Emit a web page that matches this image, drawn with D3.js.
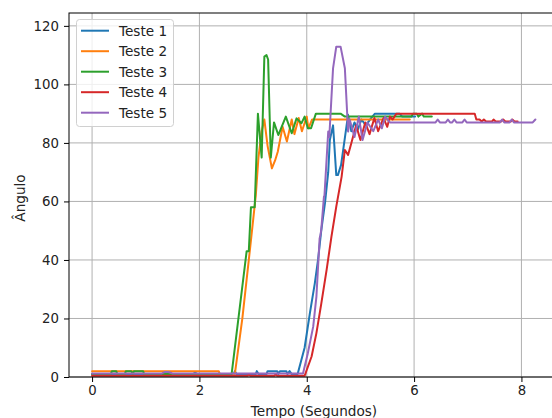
<!DOCTYPE html>
<html>
<head>
<meta charset="utf-8">
<script src="https://cdn.jsdelivr.net/npm/d3@7"></script>
<style>
  body { margin: 0; background: #fff; overflow: hidden; }
  svg { display: block; font-family: "DejaVu Sans", sans-serif; }
</style>
</head>
<body>
<svg id="chart"></svg>
<script>
// [tempo (s), ângulo]
const teste1 = [[0,1],[1.88,1],[1.92,1.5],[1.96,1],[2.64,1],[2.66,2],[2.69,1],[3.05,1],[3.07,2],[3.10,1],[3.25,1],[3.27,2],[3.45,2],[3.47,1],[3.50,2],[3.62,2],[3.64,1],[3.68,2],[3.72,1],[3.83,1],[3.96,10],[4.06,22],[4.15,32],[4.21,40],[4.27,50],[4.34,59.5],[4.40,70],[4.43,81],[4.49,86],[4.55,69],[4.58,69],[4.64,72.5],[4.77,89.6],[4.83,84],[4.89,87],[4.95,84.5],[5.02,88],[5.10,86],[5.20,88.5],[5.27,90],[5.73,90],[5.78,89],[6.02,89]];
const teste2 = [[0,2],[2.36,2],[2.38,1],[2.66,1],[2.80,20],[2.95,45],[3.05,62],[3.10,75],[3.16,84],[3.21,88],[3.27,79],[3.35,71.3],[3.41,74],[3.46,77],[3.55,85.5],[3.63,80.5],[3.72,88],[3.77,83],[3.85,88.5],[3.91,84],[4.00,89],[4.03,85],[4.10,88],[5.92,88]];
const teste3 = [[0,1],[0.35,1],[0.37,2],[0.45,2],[0.47,1],[0.61,1],[0.63,2],[0.73,2],[0.76,1],[0.78,2],[0.95,2],[0.97,1],[2.60,1],[2.88,43],[2.92,43],[2.96,58],[3.03,58],[3.09,90],[3.16,75],[3.21,109.5],[3.25,110],[3.28,108.5],[3.33,75],[3.39,87],[3.47,82.7],[3.61,89],[3.72,83.3],[3.81,88.4],[3.90,86.7],[3.96,89],[4.02,85],[4.08,85],[4.17,90],[4.63,90],[4.71,89],[5.95,89],[5.98,90],[6.05,90],[6.08,89],[6.15,90],[6.18,89],[6.33,89]];
const teste4 = [[0,0.4],[2.90,0.4],[2.92,1],[2.95,0.4],[3.40,0.4],[3.42,1],[3.45,0.4],[3.96,0.4],[4.09,7],[4.18,15],[4.27,25],[4.37,36.6],[4.46,48],[4.55,58.2],[4.65,68.5],[4.71,77.6],[4.77,75.9],[4.83,79.9],[4.92,86],[5.00,81],[5.09,87],[5.17,83],[5.26,88.5],[5.33,84],[5.43,88.5],[5.50,85.5],[5.55,89],[5.60,88],[5.67,90],[7.13,90],[7.16,88],[7.22,88],[7.26,87.3],[7.30,88],[7.34,87.3],[7.45,87.3],[7.48,88],[7.52,87.3],[7.62,87.3],[7.66,88],[7.70,87.3],[7.80,87.3],[7.83,88],[7.87,87.3],[7.93,87.3]];
const teste5 = [[0,1.2],[1.30,1.2],[1.35,1.7],[1.42,1.7],[1.50,1.2],[3.93,1.2],[4.02,8.1],[4.12,17.2],[4.18,27.5],[4.24,47.4],[4.25,48],[4.27,50.3],[4.32,61.6],[4.33,62],[4.38,77.6],[4.40,83.9],[4.42,82],[4.49,105.5],[4.55,112.9],[4.63,112.9],[4.71,105.5],[4.77,83.9],[4.80,88],[4.89,82],[4.97,89],[5.04,81],[5.13,87],[5.24,84],[5.33,88],[5.40,85],[5.46,89],[5.55,87],[5.70,87],[6.40,87],[6.44,88],[6.48,87],[6.59,87],[6.63,88],[6.67,87],[6.71,87],[6.75,88],[6.79,87],[6.90,87],[6.94,88],[6.98,87],[7.60,87],[7.64,88],[7.68,87],[7.78,87],[7.82,88],[7.86,87],[8.21,87],[8.26,88]];

const seriesNames = ["Teste 1", "Teste 2", "Teste 3", "Teste 4", "Teste 5"];
const seriesColors = ["#1f77b4", "#ff7f0e", "#2ca02c", "#d62728", "#9467bd"];
const xTicks = [0, 2, 4, 6, 8];
const yTicks = [0, 20, 40, 60, 80, 100, 120];

const width = 552, height = 418;
const plotLeft = 69, plotTop = 13, plotRight = 559, plotBottom = 377;

const svg = d3.select("#chart").attr("width", width).attr("height", height);

const x = d3.scaleLinear().domain([-0.43, 8.7]).range([plotLeft, plotRight]);
const y = d3.scaleLinear().domain([0, 124.4]).range([plotBottom, plotTop]);

svg.append("defs").append("clipPath").attr("id", "plot")
  .append("rect").attr("x", plotLeft).attr("y", plotTop)
  .attr("width", plotRight - plotLeft).attr("height", plotBottom - plotTop);

// grid
svg.append("g").selectAll("line").data(xTicks).join("line")
  .attr("x1", d => x(d)).attr("x2", d => x(d))
  .attr("y1", plotTop).attr("y2", plotBottom)
  .attr("stroke", "#b0b0b0").attr("stroke-width", 1);
svg.append("g").selectAll("line").data(yTicks).join("line")
  .attr("x1", plotLeft).attr("x2", plotRight)
  .attr("y1", d => y(d)).attr("y2", d => y(d))
  .attr("stroke", "#b0b0b0").attr("stroke-width", 1);

// lines
const line = d3.line().x(d => x(d[0])).y(d => y(d[1]));
const allSeries = [teste1, teste2, teste3, teste4, teste5];
svg.append("g").attr("clip-path", "url(#plot)")
  .selectAll("path").data(allSeries).join("path")
  .attr("d", line)
  .attr("fill", "none")
  .attr("stroke", (d, i) => seriesColors[i])
  .attr("stroke-width", 2)
  .attr("stroke-linejoin", "round")
  .attr("stroke-linecap", "round");

// spines
svg.append("rect")
  .attr("x", plotLeft).attr("y", plotTop)
  .attr("width", plotRight - plotLeft).attr("height", plotBottom - plotTop)
  .attr("fill", "none").attr("stroke", "#000").attr("stroke-width", 1);

// axes
const xAxis = svg.append("g")
  .attr("transform", `translate(0,${plotBottom})`)
  .call(d3.axisBottom(x).tickValues(xTicks).tickSize(5).tickPadding(4));
const yAxis = svg.append("g")
  .attr("transform", `translate(${plotLeft},0)`)
  .call(d3.axisLeft(y).tickValues(yTicks).tickSize(5).tickPadding(5));
[xAxis, yAxis].forEach(g => {
  g.select(".domain").remove();
  g.selectAll("text").attr("font-size", 13.3).attr("fill", "#222")
    .attr("font-family", "DejaVu Sans, sans-serif");
  g.selectAll("line").attr("stroke", "#000");
});

svg.append("text")
  .attr("x", (plotLeft + plotRight) / 2).attr("y", 416)
  .attr("text-anchor", "middle").attr("font-size", 13.6).attr("fill", "#222")
  .text("Tempo (Segundos)");
svg.append("text")
  .attr("transform", `translate(25,${(plotTop + plotBottom) / 2 + 3}) rotate(-90)`)
  .attr("text-anchor", "middle").attr("font-size", 13.6).attr("fill", "#222")
  .text("Ângulo");

// legend
const legend = svg.append("g");
legend.append("rect")
  .attr("x", 76.5).attr("y", 19.5).attr("width", 97).attr("height", 107)
  .attr("rx", 3).attr("fill", "#fff").attr("fill-opacity", 0.8)
  .attr("stroke", "#d0d0d0").attr("stroke-width", 1);
const rows = legend.selectAll("g.row").data(seriesNames).join("g")
  .attr("class", "row")
  .attr("transform", (d, i) => `translate(0,${30.7 + i * 20.5})`);
rows.append("line")
  .attr("x1", 81).attr("x2", 109)
  .attr("stroke", (d, i) => seriesColors[i]).attr("stroke-width", 2);
rows.append("text")
  .attr("x", 119).attr("y", 4.8)
  .attr("font-size", 13.6).attr("fill", "#222")
  .text(d => d);
</script>
</body>
</html>
